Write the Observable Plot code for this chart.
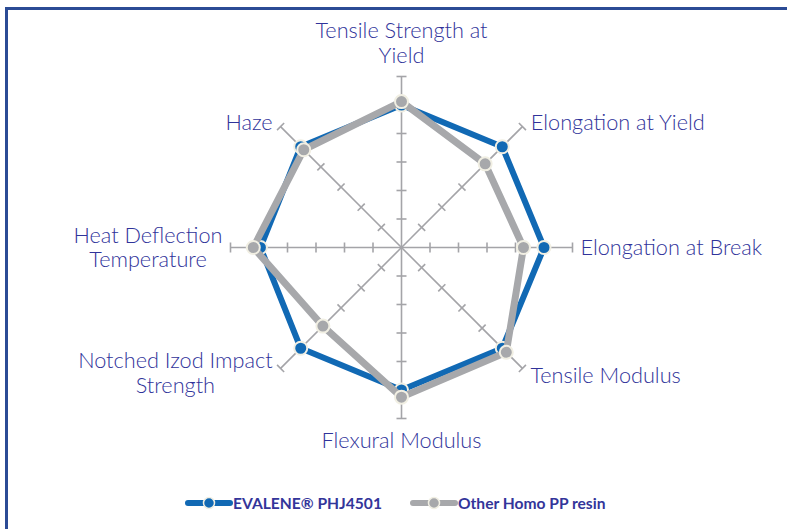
<!DOCTYPE html>
<html>
<head>
<meta charset="utf-8">
<script src="https://cdn.jsdelivr.net/npm/d3@7"></script>
<script src="https://cdn.jsdelivr.net/npm/@observablehq/plot@0.6"></script>
<style>
  html, body { margin: 0; padding: 0; background: #fff; }
  body { width: 787px; height: 529px; overflow: hidden; position: relative; }
  #frame { position: absolute; left: 5px; top: 7px; width: 900px; height: 700px;
           border-left: 3px solid #2b4b95; border-top: 3px solid #2b4b95; box-sizing: border-box; }
  #chart { position: absolute; left: 0; top: 0; }
  #legend { position: absolute; top: 494px; left: 185px; display: flex; align-items: center;
            font-family: Lato, sans-serif; font-weight: 700; font-size: 15.6px; color: #33359a; }
  .item { display: flex; align-items: center; margin-right: 28px; }
  .item svg { margin-right: 0px; }
</style>
</head>
<body>
<div id="frame"></div>
<div id="chart"></div>
<div id="legend"></div>
<script>
// ---- data ----
const axes = [
  "Tensile Strength at\nYield",
  "Elongation at Yield",
  "Elongation at Break",
  "Tensile Modulus",
  "Flexural Modulus",
  "Notched Izod Impact\nStrength",
  "Heat Deflection\nTemperature",
  "Haze"
];
const seriesNames = ["EVALENE® PHJ4501", "Other Homo PP resin"];
const evalene = [5.0, 5.0, 5.0, 5.0, 5.0, 5.0, 4.95, 5.0];
const otherPP = [5.12, 4.15, 4.28, 5.2, 5.25, 3.9, 5.2, 4.85];
const tickValues = [1, 2, 3, 4, 5, 6];
const maxValue = 6;

// ---- layout ----
const W = 787, H = 486;
const cx = 401, cy = 247, R = 171;
const ppu = R / maxValue;           // pixels per unit
const colors = ["#1169b4", "#a7a8ab"];
const labelColor = "#30339a";
const font = "Lato, sans-serif";
const fontSize = 21.7;
const fontWeight = 300;
const lh = 1.12;

const n = axes.length;
const ang = i => i * 2 * Math.PI / n;
const px = (v, i) => v * Math.sin(ang(i));
const py = (v, i) => v * Math.cos(ang(i));

// axis spokes
const spokes = axes.map((a, i) => ({x1: 0, y1: 0, x2: px(maxValue, i), y2: py(maxValue, i)}));
// tick marks
const half = 5 / ppu;
const ticks = [];
axes.forEach((a, i) => {
  const t = ang(i);
  tickValues.forEach(k => {
    const mx = px(k, i), my = py(k, i);
    ticks.push({x1: mx - half * Math.cos(t), y1: my + half * Math.sin(t),
                x2: mx + half * Math.cos(t), y2: my - half * Math.sin(t)});
  });
});

const toPts = (vals, s) => vals.map((v, i) => ({x: px(v, i), y: py(v, i), s}));
const ptsA = toPts(evalene, seriesNames[0]);
const ptsB = toPts(otherPP, seriesNames[1]);

// label measurement
const ctx = document.createElement("canvas").getContext("2d");
ctx.font = `${fontWeight} ${fontSize}px ${font}`;
const blockW = s => Math.max(...s.split("\n").map(l => ctx.measureText(l).width));

const labels = axes.map((a, i) => {
  const s = Math.sin(ang(i)), c = Math.cos(ang(i));
  return {text: a, i, x: px(maxValue, i), y: py(maxValue, i), s, c};
});
const gap = 8;
const topL = labels.filter(d => Math.abs(d.s) < 0.01 && d.c > 0);
const botL = labels.filter(d => Math.abs(d.s) < 0.01 && d.c < 0);
const sideL = labels.filter(d => Math.abs(d.s) >= 0.01);

const chart = Plot.plot({
  width: W, height: H,
  margin: 0,
  x: {domain: [-cx / ppu, (W - cx) / ppu], range: [0, W], axis: null},
  y: {domain: [(cy - H) / ppu, cy / ppu], range: [H, 0], axis: null},
  style: {fontFamily: font, background: "transparent"},
  marks: [
    Plot.link(spokes, {x1: "x1", y1: "y1", x2: "x2", y2: "y2", stroke: "#a4a4a8", strokeWidth: 1.6}),
    Plot.link(ticks, {x1: "x1", y1: "y1", x2: "x2", y2: "y2", stroke: "#a4a4a8", strokeWidth: 1.6}),
    Plot.line(ptsA, {x: "x", y: "y", curve: "linear-closed", stroke: colors[0], strokeWidth: 6, strokeLinejoin: "round"}),
    Plot.dot(ptsA, {x: "x", y: "y", r: 6.5, fill: colors[0], stroke: "#f1efe3", strokeWidth: 2}),
    Plot.line(ptsB, {x: "x", y: "y", curve: "linear-closed", stroke: colors[1], strokeWidth: 7, strokeLinejoin: "round"}),
    Plot.dot(ptsB, {x: "x", y: "y", r: 6.5, fill: colors[1], stroke: "#f1efe3", strokeWidth: 2}),
    Plot.text(topL, {x: "x", y: "y", text: "text", textAnchor: "middle", lineAnchor: "bottom", dy: -14,
      fontSize, fontWeight, fill: labelColor, lineHeight: lh}),
    Plot.text(botL, {x: "x", y: "y", text: "text", textAnchor: "middle", lineAnchor: "top", dy: 12,
      fontSize, fontWeight, fill: labelColor, lineHeight: lh}),
    Plot.text(sideL, {x: "x", y: "y", text: "text", textAnchor: "middle", lineAnchor: "middle",
      dx: 0, dy: 0, fontSize, fontWeight, fill: labelColor, lineHeight: lh,
      render(index, scales, values, dims, context, next) {
        const g = next(index, scales, values, dims, context);
        d3.select(g).selectAll("text").each(function(_, j) {
          const d = sideL[index[j]];
          const w = blockW(d.text);
          const off = Math.sign(d.s) * (w / 2 + gap);
          const oy = -d.c * 6 + (d.s > 0 && d.c < 0 ? 3 : 0);
          const el = d3.select(this);
          const tr = el.attr("transform") || "";
          el.attr("transform", tr + ` translate(${off},${oy})`);
        });
        return g;
      }
    })
  ]
});
document.getElementById("chart").appendChild(chart);

// legend
const legend = d3.select("#legend");
seriesNames.forEach((name, k) => {
  const item = legend.append("div").attr("class", "item");
  const sv = item.append("svg").attr("width", 48).attr("height", 14);
  sv.append("line").attr("x1", 3).attr("x2", 45).attr("y1", 7).attr("y2", 7)
    .attr("stroke", colors[k]).attr("stroke-width", 6).attr("stroke-linecap", "round");
  sv.append("circle").attr("cx", 24).attr("cy", 7).attr("r", 5.5)
    .attr("fill", colors[k]).attr("stroke", "#f1efe3").attr("stroke-width", 1.5);
  item.append("span").text(name);
});
</script>
</body>
</html>
